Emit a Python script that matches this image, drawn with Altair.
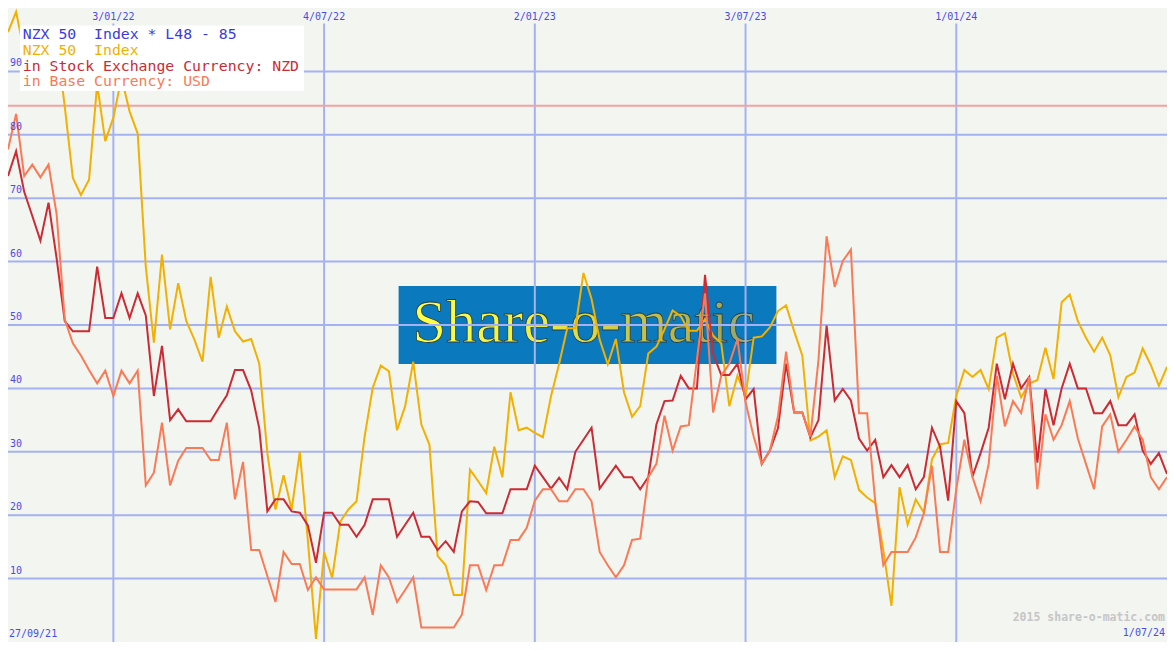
import altair as alt
import pandas as pd

# ---------------- data ----------------
start_date = "2021-10-04"
end_date = "2024-07-01"
n_weeks = 144
dates = pd.date_range(start_date, periods=n_weeks, freq="7D")

index_vals = [
    96.2, 99.4, 93, 91, 95, 97, 95, 84.5, 73.2, 70.5,
    72.9, 88, 79, 82.7, 89, 83.7, 80.2, 59.2, 47.2, 61.1,
    49.3, 56.6, 50.6, 47.7, 44.2, 57.6, 48, 52.9, 49, 47.4,
    47.8, 43.9, 29.8, 20.9, 26.3, 20.9, 30, 16, 0.5, 14.2,
    10.1, 19, 20.9, 22.2, 32.4, 40.1, 43.6, 42.7, 33.4, 37.2,
    44.2, 34.3, 31.1, 13.6, 12.1, 7.4, 7.4, 27.2, 25.4, 23.5,
    30.8, 26, 39.4, 33.4, 33.8, 33, 32.3, 38.8, 43.9, 49.5,
    49.5, 58.2, 54.1, 47.7, 43.8, 47.8, 39.4, 35.5, 37.2, 45.5,
    46.6, 49.3, 52.3, 51.4, 49.1, 49.1, 50.9, 48.3, 47.1, 37.2,
    42, 38.8, 48, 48.2, 49.6, 52.2, 53.1, 49, 45.2, 31.8,
    32.4, 33.4, 26, 29.3, 28.7, 24, 22.8, 21.9, 14.5, 5.7,
    24.4, 18.5, 22.5, 20.4, 28.8, 31.2, 31.4, 38.8, 42.9, 41.8,
    42.9, 39.9, 48, 48.7, 42.3, 38.6, 40.8, 41.3, 46.4, 41.5,
    53.6, 54.8, 50.6, 48, 45.8, 48, 45.2, 38.6, 41.8, 42.5,
    46.3, 43.7, 40.4, 43.4,
]

nzd_vals = [
    73.5, 77.4, 71, 67.2, 63.3, 69.3, 60.5, 50.6, 49, 49,
    49, 59.2, 51.1, 51.1, 55, 51.1, 55, 51.5, 38.8, 46.7,
    35, 36.7, 34.8, 34.8, 34.8, 34.8, 36.9, 38.9, 42.9, 42.9,
    39.7, 33.7, 20.6, 22.5, 22.5, 20.6, 20.4, 18.4, 12.5, 20.4,
    20.4, 18.5, 18.5, 16.6, 18.5, 22.5, 22.5, 22.5, 16.6, 18.5,
    20.4, 16.6, 16.6, 14.5, 15.9, 14.2, 20.6, 22.2, 22.1, 20.3,
    20.3, 20.3, 24.1, 24.1, 24.1, 27.8, 26, 24.2, 25.9, 24.1,
    30, 31.9, 33.8, 24.2, 26, 27.8, 26, 26, 24.1, 26,
    34.3, 38, 38.1, 42, 40, 40, 57.9, 45.5, 42.1, 42.1,
    43.9, 38.3, 39.9, 28.1, 30.2, 33.7, 43.9, 36.2, 36.2, 32.3,
    35, 49.9, 38.1, 39.9, 38.1, 32.1, 30.2, 31.9, 26, 27.9,
    26, 27.9, 24.1, 26, 33.8, 30.8, 22.3, 38, 36.1, 26.1,
    29.8, 33.8, 43.9, 38.3, 43.9, 40, 41.8, 28.3, 39.9, 34.2,
    40, 43.9, 40, 40, 36.1, 36.1, 38, 34.2, 34.2, 35.9,
    30.2, 28.1, 29.8, 26.5,
]

usd_vals = [
    77.7, 83.3, 73.5, 75.3, 73.3, 75.3, 67.5, 50.9, 47.1, 45.2,
    42.9, 40.8, 42.8, 38.8, 42.8, 40.8, 42.8, 24.7, 26.7, 34.6,
    24.7, 28.6, 30.6, 30.6, 30.6, 28.7, 28.7, 34.6, 22.5, 28.4,
    14.5, 14.5, 10.4, 6.3, 14.2, 12.3, 12.3, 8.2, 10.2, 8.3,
    8.3, 8.3, 8.3, 8.3, 10.2, 4.3, 12.1, 10.2, 6.3, 8.2,
    10.2, 2.3, 2.3, 2.3, 2.3, 2.3, 4.3, 12.1, 12.1, 8.2,
    12.1, 12.1, 16.1, 16.1, 18, 22.3, 24.1, 24.1, 22.2, 22.2,
    24.1, 24.1, 22.2, 14.2, 12.1, 10.2, 12.1, 16.1, 16.3, 26,
    28.1, 35.7, 30.2, 34, 34.2, 44.5, 55, 36.2, 42, 43.9,
    47.8, 37.8, 32.4, 28.1, 30.2, 35.6, 45.8, 36.2, 36.2, 32.4,
    44.5, 64, 56, 60.1, 61.9, 36.1, 36.1, 22.2, 12.1, 14.2,
    14.2, 14.2, 16.5, 20.3, 27.8, 14.2, 14.2, 24.1, 31.9, 26,
    22.2, 28.1, 42, 34, 38, 36.1, 41.8, 24.1, 35.9, 31.9,
    34.2, 38, 32.1, 28.1, 24.1, 34, 35.9, 30, 31.9, 34,
    31.9, 26, 24.1, 26,
]

series_names = ["NZX 50 Index", "in Stock Exchange Currency: NZD", "in Base Currency: USD"]
series_values = [index_vals, nzd_vals, usd_vals]
series_colors = ["#f2b000", "#cc2b33", "#fb7a55"]

tick_dates = ["2022-01-03", "2022-07-04", "2023-01-02", "2023-07-03", "2024-01-01"]
tick_labels = ["3/01/22", "4/07/22", "2/01/23", "3/07/23", "1/01/24"]
grid_values = [10, 20, 30, 40, 50, 60, 70, 80, 90]
ref_level = 84.6

legend_labels = ["NZX 50\u00a0 Index * L48 - 85", "NZX 50\u00a0 Index",
                 "in Stock Exchange Currency: NZD", "in Base Currency: USD"]
legend_colors = ["#3a3ae0", "#f2b000", "#cc2b33", "#fb7a55"]

corner_left = "27/09/21"
corner_right = "1/07/24"
copyright_text = "2015 share-o-matic.com"
logo_text = "Share-o-matic"

# ---------------- layout ----------------
W, H = 1159, 634
SX, SY = W / 1175, H / 650

BG = "#f3f5f1"
GRID = "#a4b2f2"
LABEL = "#4a4aec"
MONO = "DejaVu Sans Mono"

x_scale = alt.Scale(domain=[alt.DateTime(year=2021, month=10, date=4),
                            alt.DateTime(year=2024, month=7, date=1)])
y_scale = alt.Scale(domain=[0, 100], nice=False, zero=False)

one = pd.DataFrame({"a": [0]})
ticks_df = pd.DataFrame({"date": pd.to_datetime(tick_dates), "label": tick_labels})
grid_df = pd.DataFrame({"v": grid_values, "label": [str(v) for v in grid_values]})
ref_df = pd.DataFrame({"v": [ref_level]})

layers = []

# logo box
layers.append(alt.Chart(one).mark_rect(color="#0a79bd").encode(
    x=alt.value(396 * SX), x2=alt.value(779 * SX),
    y=alt.value(285 * SY), y2=alt.value(365 * SY)))
layers.append(alt.Chart(one).mark_text(
    text=logo_text, font="Liberation Serif", fontSize=62 * SY, align="left",
    baseline="alphabetic", stroke="#24404a", strokeWidth=0.8,
    fill=alt.Gradient(gradient="linear", x1=0, x2=1, y1=0, y2=0, stops=[
        alt.GradientStop(color="#ffff4a", offset=0),
        alt.GradientStop(color="#eeee48", offset=0.35),
        alt.GradientStop(color="#c8c44a", offset=0.65),
        alt.GradientStop(color="#a4a858", offset=0.9),
        alt.GradientStop(color="#8fa888", offset=1)])).encode(
    x=alt.value(410 * SX), y=alt.value(342 * SY)))

# grid
layers.append(alt.Chart(grid_df).mark_rule(color=GRID, strokeWidth=2).encode(
    y=alt.Y("v:Q", scale=y_scale, axis=None)))
layers.append(alt.Chart(ticks_df).mark_rule(color=GRID, strokeWidth=2).encode(
    x=alt.X("date:T", scale=x_scale, axis=None),
    y=alt.value(16 * SY), y2=alt.value(H)))
layers.append(alt.Chart(ref_df).mark_rule(color="#f2a2a2", strokeWidth=2).encode(
    y=alt.Y("v:Q", scale=y_scale, axis=None)))

# series
for name, vals, col in zip(series_names, series_values, series_colors):
    df = pd.DataFrame({"date": dates, "value": vals, "series": name})
    layers.append(alt.Chart(df).mark_line(color=col, strokeWidth=2, clip=True).encode(
        x=alt.X("date:T", scale=x_scale, axis=None),
        y=alt.Y("value:Q", scale=y_scale, axis=None)))

# legend box
layers.append(alt.Chart(one).mark_rect(color="#ffffff").encode(
    x=alt.value(12 * SX), x2=alt.value(300 * SX),
    y=alt.value(18 * SY), y2=alt.value(85 * SY)))
for k, (lab, col) in enumerate(zip(legend_labels, legend_colors)):
    layers.append(alt.Chart(one).mark_text(
        text=lab, font=MONO, fontSize=14.8, align="left", baseline="middle",
        color=col).encode(x=alt.value(15 * SX), y=alt.value((28 + 16 * k) * SY)))

# y tick labels
layers.append(alt.Chart(grid_df).mark_text(
    font=MONO, fontSize=10, align="left", baseline="bottom", dy=-3, color=LABEL).encode(
    x=alt.value(2), y=alt.Y("v:Q", scale=y_scale, axis=None), text="label:N"))

# x tick labels (top)
layers.append(alt.Chart(ticks_df).mark_text(
    font=MONO, fontSize=10, align="center", baseline="middle", color=LABEL).encode(
    x=alt.X("date:T", scale=x_scale, axis=None), y=alt.value(9 * SY), text="label:N"))

# corner labels
layers.append(alt.Chart(one).mark_text(
    text=corner_left, font=MONO, fontSize=10, align="left", baseline="middle",
    color=LABEL).encode(x=alt.value(1), y=alt.value(642 * SY)))
layers.append(alt.Chart(one).mark_text(
    text=corner_right, font=MONO, fontSize=10, align="right", baseline="middle",
    color=LABEL).encode(x=alt.value(W - 2), y=alt.value(641 * SY)))
layers.append(alt.Chart(one).mark_text(
    text=copyright_text, font=MONO, fontSize=11.5, fontWeight="bold", align="right",
    baseline="middle", color="#c6c6c6").encode(x=alt.value(W - 2), y=alt.value(625 * SY)))

chart = alt.layer(*layers).properties(
    width=W, height=H, background=BG, padding=0,
    autosize=alt.AutoSizeParams(type="none"),
).configure_view(strokeWidth=0)

chart.save("out.html", embed_options={"renderer": "svg", "actions": False})
